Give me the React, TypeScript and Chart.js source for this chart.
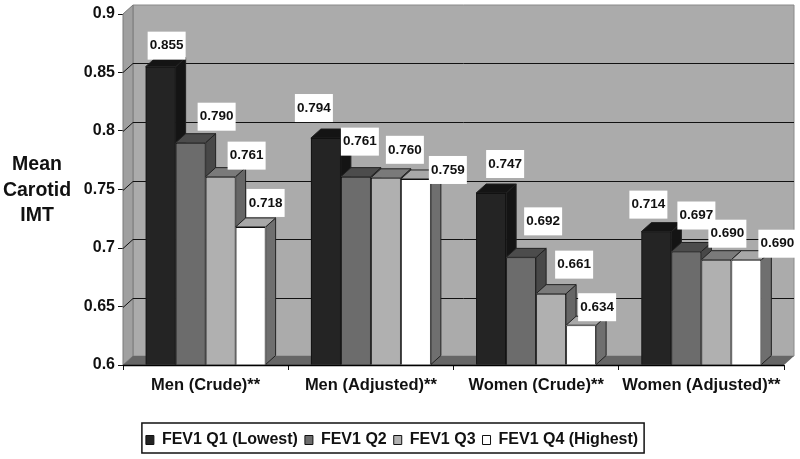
import React, { useEffect, useRef } from "react";
import { Chart, registerables } from "chart.js";

Chart.register(...registerables);

const categories = ["Men (Crude)**", "Men (Adjusted)**", "Women (Crude)**", "Women (Adjusted)**"];
const seriesNames = ["FEV1 Q1 (Lowest)", "FEV1 Q2", "FEV1 Q3", "FEV1 Q4 (Highest)"];
const q1Values = [0.855, 0.794, 0.747, 0.714];
const q2Values = [0.79, 0.761, 0.692, 0.697];
const q3Values = [0.761, 0.76, 0.661, 0.69];
const q4Values = [0.718, 0.759, 0.634, 0.69];
const yAxisTitle = ["Mean", "Carotid", "IMT"];

const FONT = '"Liberation Sans", Arial, sans-serif';
const DEPTH_X = 10;
const DEPTH_Y = 9;
const fronts = ["#242424", "#6c6c6c", "#b0b0b0", "#ffffff"];
const tops = ["#141414", "#4c4c4c", "#7a7a7a", "#a8a8a8"];
const sides = ["#141414", "#484848", "#666666", "#6f6f6f"];

// Hand placement of the value boxes relative to each bar top (layout, not data).
const labelShift = [
  [[6, -21], [-12, -30], [14, -29], [-8, -27]],
  [[26, -26], [4, -35], [22, -36], [10, -36]],
  [[26, -21], [19, -28], [23, -29], [11, -26]],
  [[15, -24], [32, -9], [16, -18], [31, -16]],
];

function poly(ctx: CanvasRenderingContext2D, pts: number[][], fill: string, stroke?: string) {
  ctx.beginPath();
  pts.forEach(([x, y], i) => (i ? ctx.lineTo(x, y) : ctx.moveTo(x, y)));
  ctx.closePath();
  ctx.fillStyle = fill;
  ctx.fill();
  if (stroke) {
    ctx.strokeStyle = stroke;
    ctx.lineWidth = 1;
    ctx.stroke();
  }
}

const box3d = {
  id: "box3d",
  beforeDatasetsDraw(chart: any) {
    const { ctx, chartArea: a, scales } = chart;
    const l = a.left, r = a.right, t = a.top, b = a.bottom;
    ctx.save();
    // back wall, left wall, floor
    poly(ctx, [[l + DEPTH_X, t - DEPTH_Y], [r + DEPTH_X, t - DEPTH_Y], [r + DEPTH_X, b - DEPTH_Y], [l + DEPTH_X, b - DEPTH_Y]], "#ababab", "#8a8a8a");
    poly(ctx, [[l, t], [l + DEPTH_X, t - DEPTH_Y], [l + DEPTH_X, b - DEPTH_Y], [l, b]], "#a0a0a0", "#7a7a7a");
    poly(ctx, [[l, b], [l + DEPTH_X, b - DEPTH_Y], [r + DEPTH_X, b - DEPTH_Y], [r, b]], "#666666");
    // gridlines
    ctx.strokeStyle = "#111";
    ctx.lineWidth = 1;
    scales.y.ticks.forEach((tick: any) => {
      if (tick.value <= scales.y.min + 1e-6 || tick.value >= scales.y.max - 1e-6) return;
      const y = Math.round(scales.y.getPixelForValue(tick.value)) + 0.5;
      ctx.beginPath();
      ctx.moveTo(l, y);
      ctx.lineTo(l + DEPTH_X, y - DEPTH_Y);
      ctx.lineTo(r + DEPTH_X, y - DEPTH_Y);
      ctx.stroke();
    });
    // bar sides, tops and fronts, first series first so later fronts cover earlier sides
    chart.data.datasets.forEach((_: any, d: number) => {
      chart.getDatasetMeta(d).data.forEach((bar: any) => {
        const { x, y, base, width } = bar.getProps(["x", "y", "base", "width"], true);
        const x0 = x - width / 2, x1 = x + width / 2;
        poly(ctx, [[x1, y], [x1 + DEPTH_X, y - DEPTH_Y], [x1 + DEPTH_X, base - DEPTH_Y], [x1, base]], sides[d], "#222");
        poly(ctx, [[x0, y], [x0 + DEPTH_X, y - DEPTH_Y], [x1 + DEPTH_X, y - DEPTH_Y], [x1, y]], tops[d], "#222");
        poly(ctx, [[x0, y], [x1, y], [x1, base], [x0, base]], fronts[d]);
      });
    });
    ctx.restore();
  },
  afterDatasetsDraw(chart: any) {
    const { ctx, chartArea: a } = chart;
    ctx.save();
    // front edge of the floor
    ctx.strokeStyle = "#000";
    ctx.lineWidth = 1.5;
    ctx.beginPath();
    ctx.moveTo(a.left, a.bottom + 0.5);
    ctx.lineTo(a.right, a.bottom + 0.5);
    ctx.stroke();
    // value boxes
    ctx.font = `bold 13.5px ${FONT}`;
    ctx.textAlign = "center";
    ctx.textBaseline = "middle";
    chart.data.datasets.forEach((ds: any, d: number) => {
      chart.getDatasetMeta(d).data.forEach((bar: any, i: number) => {
        const [dx, dy] = labelShift[d][i];
        const cx = bar.x + dx, cy = bar.y + dy;
        ctx.fillStyle = "#fff";
        ctx.fillRect(cx - 19, cy - 14, 38, 28);
        ctx.fillStyle = "#111";
        ctx.fillText(ds.data[i].toFixed(3), cx, cy);
      });
    });
    // y axis title
    ctx.font = `bold 19.5px ${FONT}`;
    yAxisTitle.forEach((line, i) => ctx.fillText(line, 37, 165 + i * 25.5));
    // legend frame
    const boxes = chart.legend.legendHitBoxes;
    if (boxes.length) {
      const left = boxes[0].left - 4;
      const last = boxes[boxes.length - 1];
      const right = last.left + last.width + 6;
      ctx.strokeStyle = "#111";
      ctx.lineWidth = 1.5;
      ctx.strokeRect(left, chart.legend.top - 2, right - left, 30);
    }
    ctx.restore();
  },
};

export default function App() {
  const ref = useRef<HTMLCanvasElement>(null);
  useEffect(() => {
    const values = [q1Values, q2Values, q3Values, q4Values];
    const chart = new Chart(ref.current!, {
      type: "bar",
      data: {
        labels: categories,
        datasets: seriesNames.map((label, d) => ({
          label,
          data: values[d],
          base: 0.6,
          backgroundColor: fronts[d],
          borderColor: "#111",
          borderWidth: 1,
          categoryPercentage: 0.726,
          barPercentage: 1,
        })),
      },
      options: {
        responsive: false,
        animation: false,
        layout: { padding: { top: 14, right: 16, bottom: 1, left: 0 } },
        plugins: {
          title: { display: false },
          tooltip: { enabled: false },
          legend: {
            position: "bottom",
            labels: {
              boxWidth: 8,
              boxHeight: 9,
              padding: 7,
              color: "#111",
              font: { family: FONT, size: 16, weight: "bold" },
              generateLabels: (c: any) =>
                c.data.datasets.map((ds: any, i: number) => ({
                  text: ds.label,
                  fillStyle: fronts[i],
                  strokeStyle: "#111",
                  lineWidth: 1,
                  fontColor: "#111",
                  datasetIndex: i,
                })),
            },
          },
        },
        scales: {
          x: {
            afterFit: (s: any) => { s.height = 60; },
            grid: { drawOnChartArea: false, drawTicks: true, tickLength: 5, color: "#111" },
            border: { color: "#111" },
            ticks: { color: "#111", padding: 6, maxRotation: 0, font: { family: FONT, size: 16.5, weight: "bold" } },
          },
          y: {
            min: 0.6,
            max: 0.9,
            afterFit: (s: any) => { s.width = 123; },
            grid: { drawOnChartArea: false, drawTicks: true, tickLength: 5, color: "#111" },
            border: { color: "#111" },
            ticks: {
              stepSize: 0.05,
              padding: 3,
              color: "#111",
              font: { family: FONT, size: 16, weight: "bold" },
              callback: (v: any) => String(+Number(v).toFixed(2)),
            },
          },
        },
      },
      plugins: [box3d],
    } as any);
    return () => chart.destroy();
  }, []);
  return (
    <div style={{ position: "absolute", left: 0, top: 0, width: 800, height: 459, background: "#fff" }}>
      <canvas ref={ref} width={800} height={459} style={{ display: "block" }} />
    </div>
  );
}
